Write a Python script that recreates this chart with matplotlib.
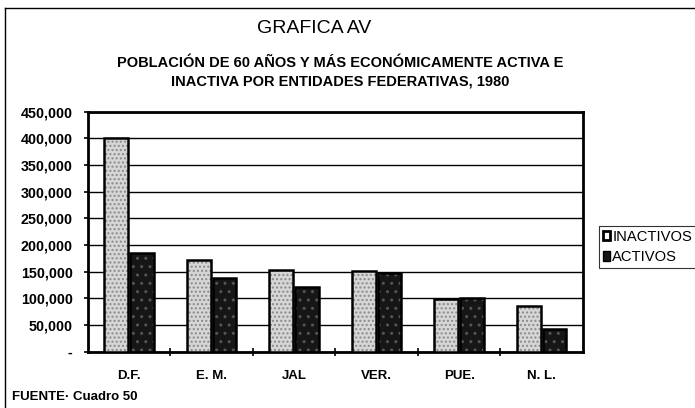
import matplotlib.pyplot as plt
import matplotlib as mpl
import numpy as np
from matplotlib.ticker import FuncFormatter, MultipleLocator, FixedLocator

mpl.rcParams['font.family'] = ['Liberation Sans', 'DejaVu Sans']

# poblacion de 60 anos y mas por entidad, 1980
entidades = ["D.F.", "E. M.", "JAL", "VER.", "PUE.", "N. L."]
inactivos = [400000, 172000, 154000, 151000, 99000, 86000]
activos = [185000, 139000, 121000, 147000, 101000, 42000]

fig = plt.figure(figsize=(6.95, 4.08), dpi=100)
ax = fig.add_axes([0.1266, 0.138, 0.7122, 0.588])

x = np.arange(len(entidades))
w = 0.29
# relleno punteado y luego el contorno encima
ax.bar(x - 0.155, inactivos, w, color="#d6d6d6", hatch="....", edgecolor="#8a8a8a", lw=0, zorder=3)
ax.bar(x - 0.155, inactivos, w, facecolor="none", edgecolor="black", lw=1.8, zorder=4)
ax.bar(x + 0.155, activos, w, color="#161616", hatch="..", edgecolor="#555555", lw=0, zorder=3)
ax.bar(x + 0.155, activos, w, facecolor="none", edgecolor="black", lw=1.8, zorder=4)

ax.set_xlim(-0.5, len(entidades) - 0.5)
ax.set_ylim(0, 450000)
ax.yaxis.set_major_locator(MultipleLocator(50000))
ax.yaxis.set_major_formatter(FuncFormatter(lambda v, p: "-" if v == 0 else "{:,.0f}".format(v)))
ax.grid(axis="y", color="black", lw=1, zorder=1)

ax.set_xticks(x)
ax.set_xticklabels(entidades, fontsize=9.5, fontweight="bold")
ax.xaxis.set_minor_locator(FixedLocator(np.arange(0.5, len(entidades) - 0.5)))
ax.tick_params(axis="x", which="major", length=0, pad=13)
ax.tick_params(axis="x", which="minor", length=6, direction="inout", width=1.2)
ax.tick_params(axis="y", length=3, width=1.2, direction="out", labelsize=10.3, pad=8)
for lab in ax.get_yticklabels():
    lab.set_fontweight("bold")
for s in ax.spines.values():
    s.set_linewidth(2)

fig.text(0.452, 0.93, "GRAFICA AV", ha="center", va="center", fontsize=14)
fig.text(0.49, 0.823, "POBLACIÓN DE 60 AÑOS Y MÁS ECONÓMICAMENTE ACTIVA E\nINACTIVA POR ENTIDADES FEDERATIVAS, 1980",
         ha="center", va="center", fontsize=10.5, fontweight="bold", linespacing=1.35)
fig.text(0.017, 0.027, "FUENTE· Cuadro 50", ha="left", va="center", fontsize=9.5, fontweight="bold")

# marco exterior
fig.add_artist(plt.Line2D([0.007, 1.0], [0.98, 0.98], color="black", lw=1))
fig.add_artist(plt.Line2D([0.007, 0.007], [0.0, 0.98], color="black", lw=1))

leg = fig.legend(
    [mpl.patches.Patch(facecolor="white", edgecolor="black", lw=2),
     mpl.patches.Patch(facecolor="#161616", edgecolor="black", lw=1)],
    ["INACTIVOS", "ACTIVOS"],
    loc="upper left", bbox_to_anchor=(0.862, 0.446), fontsize=10.6,
    frameon=True, fancybox=False, edgecolor="black", borderpad=0.25,
    handlelength=0.5, handleheight=0.6, handletextpad=0.15, labelspacing=0.45,
    borderaxespad=0)
leg.get_frame().set_linewidth(0.8)

fig.savefig("out.png", dpi=100)
